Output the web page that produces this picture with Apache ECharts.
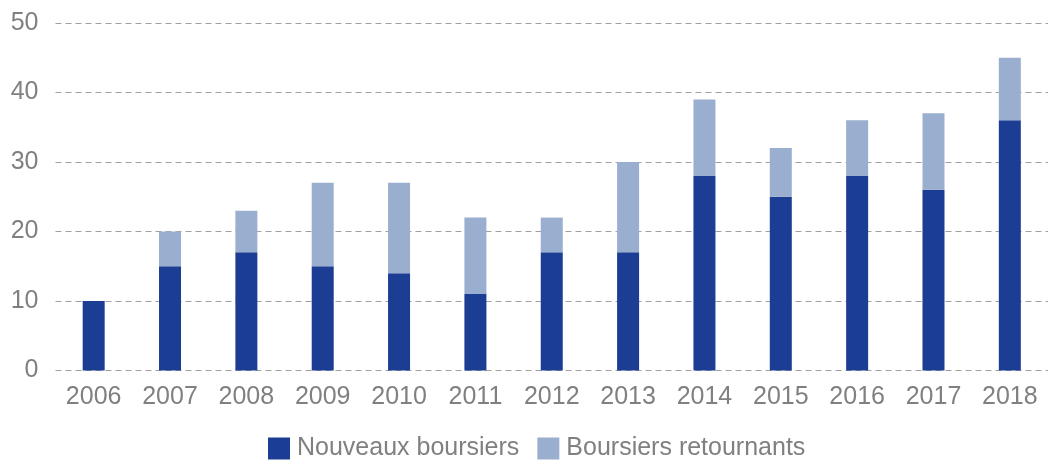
<!DOCTYPE html>
<html><head><meta charset="utf-8">
<script src="https://cdn.jsdelivr.net/npm/echarts@6/dist/echarts.min.js"></script>
<style>html,body{margin:0;padding:0;background:#fff;overflow:hidden}#c{width:1048px;height:461px}</style>
</head><body><div id="c"></div>
<script>
const categories = ['2006','2007','2008','2009','2010','2011','2012','2013','2014','2015','2016','2017','2018'];
const nouveaux = [10,15,17,15,14,11,17,17,28,25,28,26,36];
const retournants = [0,5,6,12,13,11,5,13,11,7,8,11,9];
const yTicks = {min:0,max:50,interval:10};

const font = 'Liberation Sans, Arial, sans-serif';
const chart = echarts.init(document.getElementById('c'));
chart.setOption({
  animation:false,
  grid:{left:55.5,top:23,width:998,height:347.5,containLabel:false},
  legend:{
    top:436,left:268,itemWidth:22,itemHeight:22,itemGap:18,
    icon:'rect',padding:0,
    textStyle:{fontFamily:font,fontSize:25,color:'#808080',padding:[0,0,0,2]},
    data:['Nouveaux boursiers','Boursiers retournants']
  },
  xAxis:{
    type:'category',data:categories,
    axisLine:{show:false},axisTick:{show:false},
    axisLabel:{fontFamily:font,fontSize:25,color:'#808080',margin:14}
  },
  yAxis:{
    type:'value',min:yTicks.min,max:yTicks.max,interval:yTicks.interval,
    axisLine:{show:false},axisTick:{show:false},
    axisLabel:{fontFamily:font,fontSize:25,color:'#808080',margin:17},
    splitLine:{lineStyle:{color:'#a0a0a0',type:[6,4],width:1}}
  },
  series:[
    {name:'Nouveaux boursiers',type:'bar',stack:'a',data:nouveaux,barWidth:22,itemStyle:{color:'#1B3D93'}},
    {name:'Boursiers retournants',type:'bar',stack:'a',data:retournants,barWidth:22,itemStyle:{color:'#9AAECF'}}
  ]
});
</script></body></html>
